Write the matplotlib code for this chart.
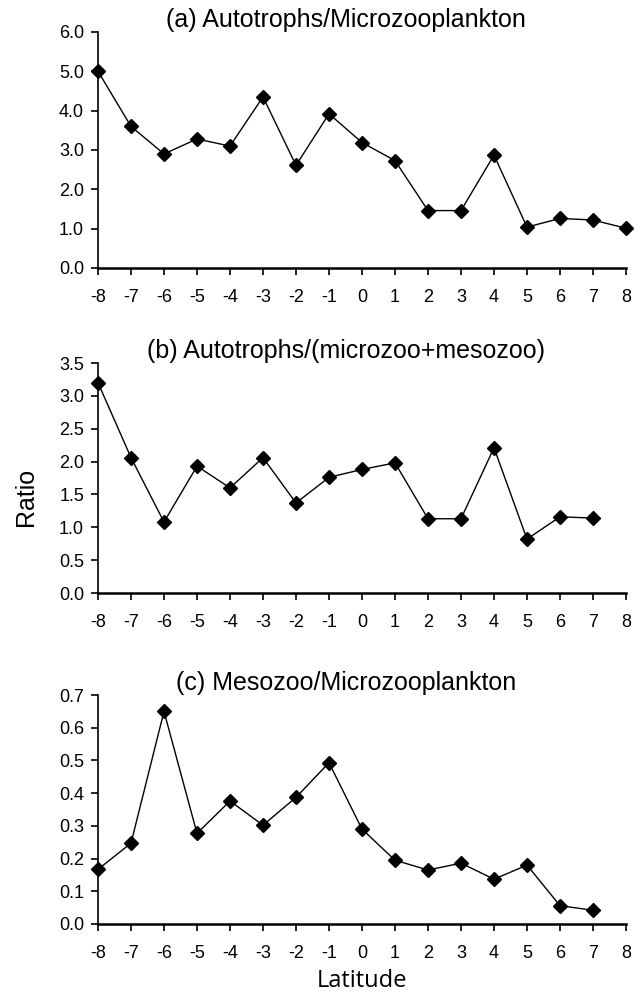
import matplotlib
matplotlib.use("Agg")
import matplotlib.pyplot as plt

plt.rcParams["font.family"] = ["Liberation Sans", "DejaVu Sans"]

# latitude positions
lat_a = [-8, -7, -6, -5, -4, -3, -2, -1, 0, 1, 2, 3, 4, 5, 6, 7, 8]
lat_bc = [-8, -7, -6, -5, -4, -3, -2, -1, 0, 1, 2, 3, 4, 5, 6, 7]

# ratios
auto_micro = [5.0, 3.60, 2.90, 3.28, 3.10, 4.35, 2.61, 3.92, 3.19, 2.73,
              1.46, 1.46, 2.87, 1.04, 1.26, 1.22, 1.01]
auto_zoo = [3.20, 2.06, 1.08, 1.93, 1.60, 2.06, 1.37, 1.76, 1.88, 1.98,
            1.13, 1.13, 2.21, 0.82, 1.16, 1.14]
meso_micro = [0.167, 0.247, 0.650, 0.277, 0.376, 0.302, 0.387, 0.493, 0.290,
              0.195, 0.165, 0.186, 0.137, 0.180, 0.056, 0.042]

titles = ["(a) Autotrophs/Microzooplankton",
          "(b) Autotrophs/(microzoo+mesozoo)",
          "(c) Mesozoo/Microzooplankton"]
y_max = [6.0, 3.5, 0.7]
y_step = [1.0, 0.5, 0.1]
x_ticks = list(range(-8, 9))

fig = plt.figure(figsize=(6.43, 9.92), dpi=100)
left, width = 98 / 643, 528 / 643
boxes = [(1 - 268 / 992, 236 / 992),
         (1 - 593 / 992, 230 / 992),
         (1 - 924 / 992, 229 / 992)]

series = [(lat_a, auto_micro), (lat_bc, auto_zoo), (lat_bc, meso_micro)]

for i in range(3):
    bottom, height = boxes[i]
    ax = fig.add_axes([left, bottom, width, height])
    x, y = series[i]
    ax.plot(x, y, color="black", lw=1.0, marker="D", markersize=7.5,
            markerfacecolor="black", markeredgecolor="black", clip_on=False)
    ax.set_xlim(-8, 8)
    ax.set_ylim(0, y_max[i])
    ax.set_xticks(x_ticks)
    ax.set_xticklabels([str(t) for t in x_ticks])
    n = int(round(y_max[i] / y_step[i]))
    yt = [k * y_step[i] for k in range(n + 1)]
    ax.set_yticks(yt)
    ax.set_yticklabels(["%.1f" % v for v in yt])
    ax.spines["top"].set_visible(False)
    ax.spines["right"].set_visible(False)
    ax.spines["left"].set_linewidth(1.2)
    ax.spines["bottom"].set_linewidth(1.8)
    ax.tick_params(axis="x", direction="out", length=5, width=1.2,
                   pad=10, labelsize=13)
    ax.tick_params(axis="y", direction="out", length=5, width=1.2,
                   pad=5, labelsize=13)
    ax.set_title(titles[i], fontsize=18, pad=3, x=0.47)

fig.text(26 / 643, 1 - 497 / 992, "Ratio", rotation=90, fontsize=18,
         ha="center", va="center")
fig.text(362 / 643, 1 - 987 / 992, "Latitude", fontsize=17,
         ha="center", va="baseline", family=["Open Sans", "DejaVu Sans"])

fig.savefig("out.png", dpi=100)
